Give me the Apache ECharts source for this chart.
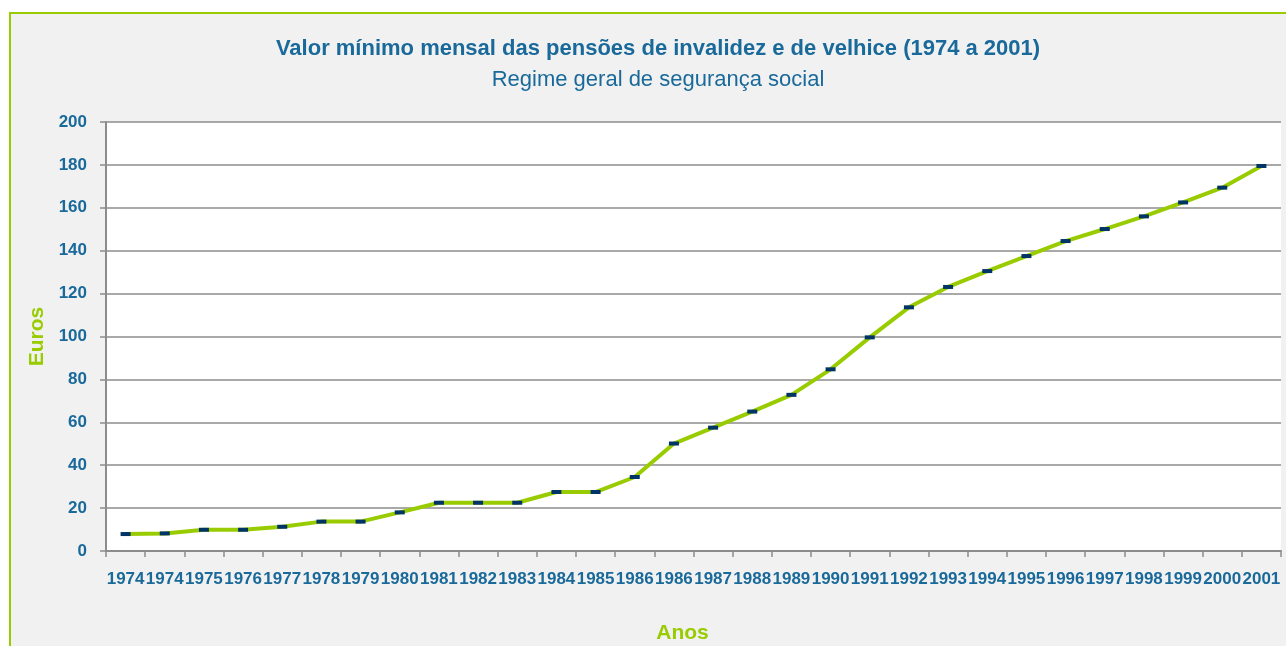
<!DOCTYPE html>
<html>
<head>
<meta charset="utf-8">
<script src="https://cdn.jsdelivr.net/npm/echarts@6/dist/echarts.min.js"></script>
<style>
  html, body { margin: 0; padding: 0; background: #ffffff; overflow: hidden; }
  .frame {
    position: absolute;
    left: 9px;
    top: 12px;
    width: 1290px;
    height: 650px;
    background: #f1f1f1;
    border-left: 2px solid #99cc00;
    border-top: 2px solid #99cc00;
  }
  #chart { position: absolute; left: 0; top: 0; width: 1286px; height: 646px; }
</style>
</head>
<body>
<div class="frame"></div>
<div id="chart"></div>
<script>
// anos (o original repete 1974 e 1986)
var anos = ["1974", "1974", "1975", "1976", "1977", "1978", "1979", "1980",
  "1981", "1982", "1983", "1984", "1985", "1986", "1986", "1987", "1988",
  "1989", "1990", "1991", "1992", "1993", "1994", "1995", "1996", "1997",
  "1998", "1999", "2000", "2001"];
// valor mínimo mensal em euros
var valores = [7.9, 8.2, 9.9, 9.9, 11.3, 13.7, 13.7, 18.0, 22.5, 22.5, 22.5,
  27.5, 27.5, 34.5, 50.1, 57.5, 65.0, 72.8, 84.7, 99.6, 113.6, 123.1, 130.5,
  137.5, 144.5, 150.1, 156.0, 162.5, 169.4, 179.5];
var yTicks = [0, 200, 20]; // min, max, intervalo

var azul = "#19699a";
var verde = "#99cc00";
var fonte = "'Liberation Sans', Arial, sans-serif";

var chart = echarts.init(document.getElementById("chart"));
chart.setOption({
  backgroundColor: "transparent",
  animation: false,
  title: {
    text: "Valor mínimo mensal das pensões de invalidez e de velhice (1974 a 2001)",
    subtext: "Regime geral de segurança social",
    left: 653,
    textAlign: "center",
    top: 33,
    itemGap: 9,
    textStyle: { color: azul, fontSize: 22, fontWeight: "bold", fontFamily: fonte },
    subtextStyle: { color: azul, fontSize: 22, fontFamily: fonte }
  },
  grid: {
    left: 106,
    right: 5,
    top: 122,
    bottom: 95,
    outerBoundsMode: "none",
    show: true,
    backgroundColor: "#ffffff",
    borderWidth: 0
  },
  xAxis: {
    type: "category",
    data: anos,
    boundaryGap: true,
    name: "Anos",
    nameLocation: "middle",
    nameGap: 72,
    nameTextStyle: { color: verde, fontSize: 21, fontWeight: "bold", fontFamily: fonte, padding: [0, 22, 0, 0] },
    axisLine: { lineStyle: { color: "#8c8c8c", width: 2 } },
    axisTick: { show: true, length: 6, lineStyle: { color: "#8c8c8c", width: 1.5 } },
    axisLabel: { interval: 0, margin: 20, color: azul, fontSize: 17, fontWeight: "bold", fontFamily: fonte },
    splitLine: { show: false }
  },
  yAxis: {
    type: "value",
    min: yTicks[0],
    max: yTicks[1],
    interval: yTicks[2],
    name: "Euros",
    nameLocation: "middle",
    nameRotate: 90,
    nameGap: 58,
    nameTextStyle: { color: verde, fontSize: 21, fontWeight: "bold", fontFamily: fonte },
    axisLine: { show: true, lineStyle: { color: "#8c8c8c", width: 2 } },
    axisTick: { show: true, length: 6, lineStyle: { color: "#8c8c8c", width: 1.5 } },
    axisLabel: { margin: 19, color: azul, fontSize: 17, fontWeight: "bold", fontFamily: fonte },
    splitLine: { lineStyle: { color: "#8c8c8c", width: 1.5 } }
  },
  series: [
    {
      type: "line",
      data: valores,
      symbol: "rect",
      symbolSize: [10, 4],
      showAllSymbol: true,
      itemStyle: { color: "#003366", borderWidth: 0 },
      lineStyle: { color: verde, width: 4 }
    }
  ]
});
</script>
</body>
</html>
